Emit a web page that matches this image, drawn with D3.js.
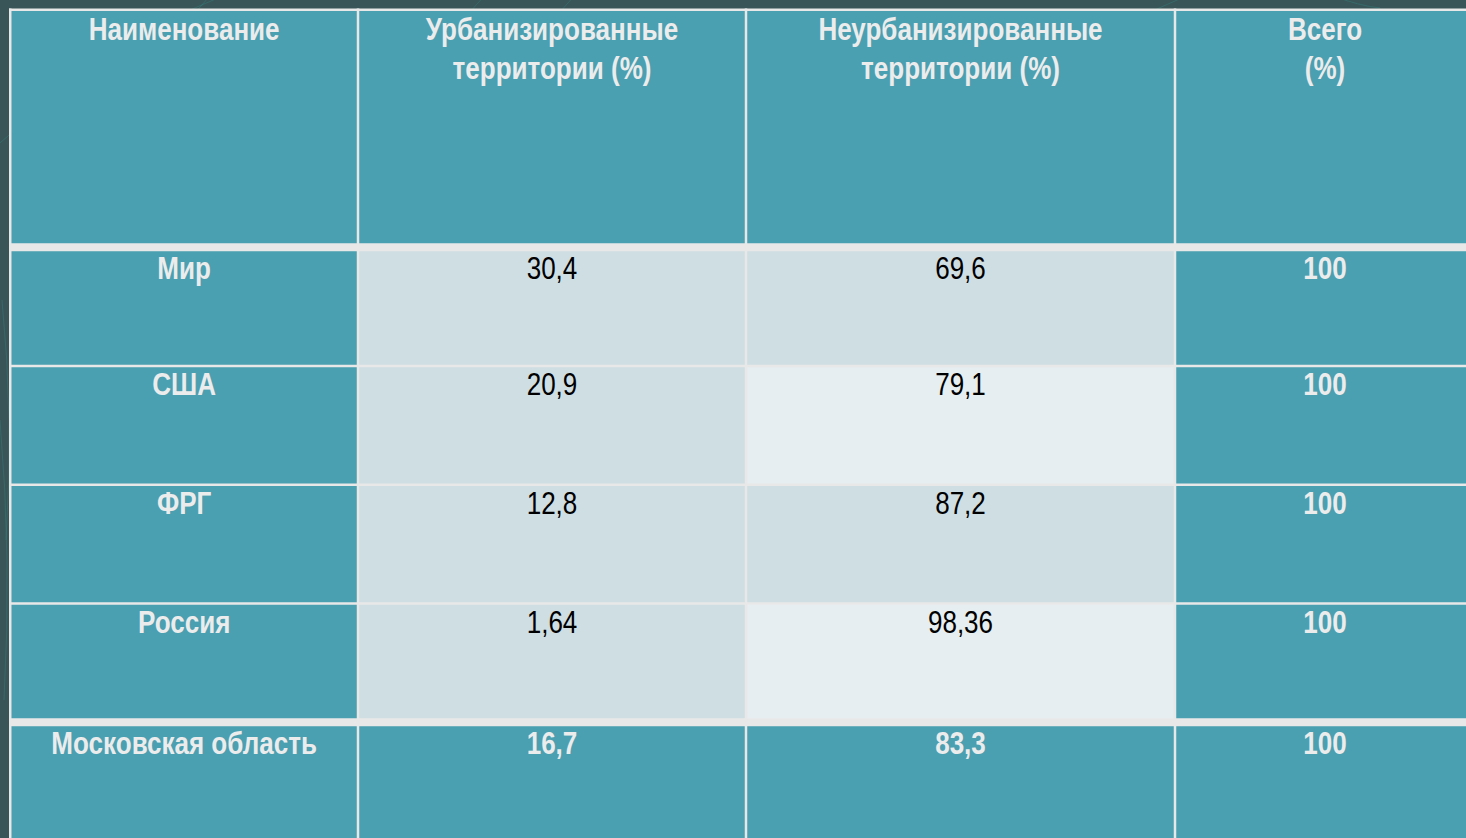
<!DOCTYPE html>
<html lang="ru">
<head>
<meta charset="UTF-8">
<title>Урбанизированные территории</title>
<style>
  html, body { margin: 0; padding: 0; background: #3a5558; overflow: hidden; }
  svg { display: block; }
</style>
<script src="https://cdn.jsdelivr.net/npm/d3@7"></script>
</head>
<body>
<script>
// table content
const headers = [
  ["Наименование"],
  ["Урбанизированные", "территории (%)"],
  ["Неурбанизированные", "территории (%)"],
  ["Всего", "(%)"]
];
const names = ["Мир", "США", "ФРГ", "Россия", "Московская область"];
const urban = [30.4, 20.9, 12.8, 1.64, 16.7];
const rural = [69.6, 79.1, 87.2, 98.36, 83.3];
const total = [100, 100, 100, 100, 100];

// layout
const W = 1466, H = 838;
const colWidths = [347.75, 388, 429, 300];
const tableLeft = 10.25, tableTop = 9.75, unit = 118.75;
const fontSize = 32, lineH = 39;

const colors = {
  bg: "#3a5558",
  teal: "#4a9fb0",
  band1: "#cfdee3",
  band2: "#e6eef1",
  grid: "#e8e8e8",
  light: "#ececec",
  dark: "#000000"
};

const ru = d3.formatLocale({ decimal: ",", thousands: " ", grouping: [3], currency: ["", ""] });
const fmt = ru.format("~f");

const xEdges = [tableLeft, ...Array.from(d3.cumsum(colWidths), d => d + tableLeft)];
// header spans two row units, body rows one each
const y = d3.scaleLinear().domain([0, 7]).range([tableTop, tableTop + 7 * unit]);

const svg = d3.select("body").append("svg")
  .attr("width", W)
  .attr("height", H);

svg.append("rect").attr("width", W).attr("height", H).attr("fill", colors.bg);

// faint decorative strokes of the slide background
const deco = svg.append("g").attr("fill", "none").attr("stroke", "#2f8f8a").attr("stroke-opacity", 0.35).attr("stroke-width", 1);
[
  "M -20 160 L 120 40 L 260 -20",
  "M 180 30 L 215 -10",
  "M 470 12 L 485 -5",
  "M 560 12 L 575 -5",
  "M 1150 12 L 1200 -10",
  "M 1330 -5 Q 1360 6 1380 8",
  "M 0 420 Q 12 560 4 700",
  "M 2 300 Q 14 420 6 540"
].forEach(p => deco.append("path").attr("d", p));

// build cells
const cells = [];
headers.forEach((lines, c) => cells.push({ r0: 0, r1: 2, c, lines, bold: true, fill: colors.teal, color: colors.light }));
names.forEach((name, i) => {
  const vals = [name, fmt(urban[i]), fmt(rural[i]), fmt(total[i])];
  const last = i === names.length - 1;
  vals.forEach((v, c) => {
    let fill = colors.teal, bold = true, color = colors.light;
    if (!last && c === 1) { fill = colors.band1; bold = false; color = colors.dark; }
    if (!last && c === 2) { fill = i % 2 === 0 ? colors.band1 : colors.band2; bold = false; color = colors.dark; }
    cells.push({ r0: 2 + i, r1: 3 + i, c, lines: [v], bold, fill, color });
  });
});

svg.append("g").selectAll("rect").data(cells).join("rect")
  .attr("x", d => xEdges[d.c])
  .attr("y", d => y(d.r0))
  .attr("width", d => xEdges[d.c + 1] - xEdges[d.c])
  .attr("height", d => y(d.r1) - y(d.r0))
  .attr("fill", d => d.fill);

// grid lines
const grid = svg.append("g").attr("stroke", colors.grid);
xEdges.slice(0, 4).forEach(x => {
  grid.append("line").attr("x1", x).attr("x2", x).attr("y1", y(0) - 1.25).attr("y2", y(7))
    .attr("stroke-width", 2.5);
});
d3.range(0, 7).filter(r => r !== 1).forEach(r => {
  const thick = r === 2 || r === 6;
  grid.append("line").attr("x1", xEdges[0] - 1.25).attr("x2", xEdges[4] + 10)
    .attr("y1", y(r)).attr("y2", y(r))
    .attr("stroke-width", thick ? 8 : 2.5);
});

// Arial Narrow look: Liberation Sans squeezed horizontally
const family = "'Liberation Sans', Arial, sans-serif";
const probe = svg.append("text").attr("font-family", family).attr("font-size", fontSize)
  .attr("font-weight", "bold").text("Наименование");
const probeW = probe.node().getComputedTextLength();
probe.remove();
const sx = probeW > 0 ? 191 / probeW : 0.82;

const labels = svg.append("g").attr("font-family", family).attr("font-size", fontSize).attr("text-anchor", "middle");
cells.forEach(d => {
  const cx = (xEdges[d.c] + xEdges[d.c + 1]) / 2;
  const inset = d.r0 === 0 ? 2.25 : (d.r0 === 2 || d.r0 === 6) ? 3.5 : 1.25;
  const base = y(d.r0) + inset + 28;
  d.lines.forEach((t, k) => {
    labels.append("g")
      .attr("transform", `translate(${cx},${base + k * lineH}) scale(${sx},1)`)
      .append("text")
      .attr("fill", d.color)
      .attr("font-weight", d.bold ? "bold" : "normal")
      .text(t);
  });
});
</script>
</body>
</html>
